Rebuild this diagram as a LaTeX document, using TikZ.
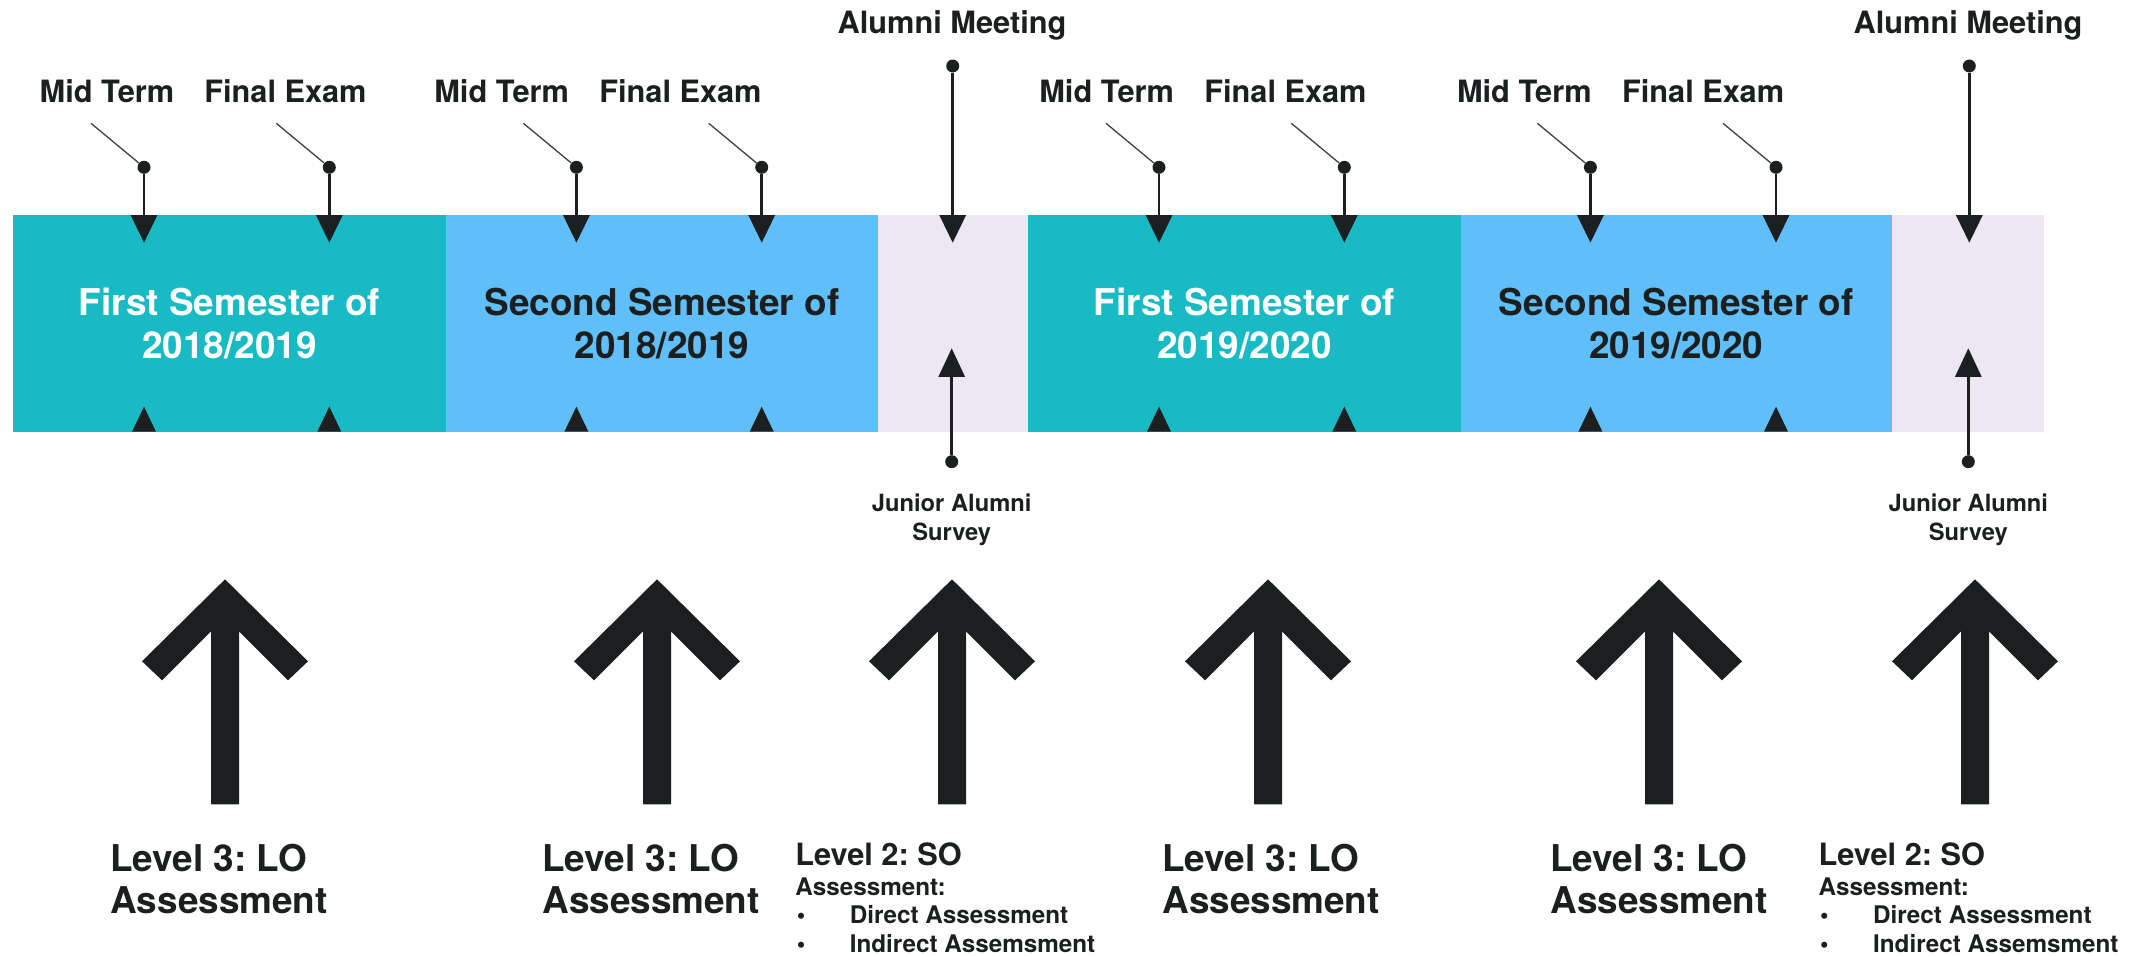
\documentclass[tikz,border=0pt]{standalone}
\usepackage{fontspec}
\setmainfont{TeX Gyre Heros}
\usetikzlibrary{arrows.meta}
\definecolor{tealseg}{RGB}{24,186,196}
\definecolor{blueseg}{RGB}{96,190,248}
\definecolor{lavseg}{RGB}{237,231,243}
\definecolor{ink}{RGB}{27,31,31}
\frenchspacing
\begin{document}
\begin{tikzpicture}[x=0.2mm,y=-0.2mm,
  dot/.style={circle,fill=ink,inner sep=0pt,minimum size=2.6mm},
  pin/.style={draw=ink,line width=0.54mm,-{Triangle[length=5.5mm,width=5.2mm]}},
  leader/.style={draw=ink!85,line width=0.26mm},
  toplabel/.style={anchor=base west,inner sep=0pt,text=ink,font=\fontsize{17.5}{20}\selectfont\bfseries},
  semtext/.style={align=center,inner sep=0pt,font=\fontsize{21}{24.4}\selectfont\bfseries},
  survey/.style={anchor=base,inner sep=0pt,text=ink,font=\fontsize{13.5}{16}\selectfont\bfseries},
  levelbig/.style={anchor=base west,inner sep=0pt,text=ink,font=\fontsize{21}{24}\selectfont\bfseries},
  levelmid/.style={anchor=base west,inner sep=0pt,text=ink,font=\fontsize{17.5}{20}\selectfont\bfseries},
  levelsmall/.style={anchor=base west,inner sep=0pt,text=ink,font=\fontsize{13.8}{16}\selectfont\bfseries},
  bulletmark/.style={anchor=base,inner sep=0pt,text=ink,font=\fontsize{13.8}{16}\selectfont\bfseries}
]
\useasboundingbox (0,0) rectangle (2136,955);

% timeline band
\fill[tealseg] (13.3,215.3) rectangle (445.7,431.7);
\fill[blueseg] (445.7,215.3) rectangle (878.3,431.7);
\fill[lavseg]  (878.3,215.3) rectangle (1028.3,431.7);
\fill[tealseg] (1028.3,215.3) rectangle (1460.7,431.7);
\fill[blueseg] (1460.7,215.3) rectangle (1891.7,431.7);
\fill[lavseg]  (1891.7,215.3) rectangle (2044,431.7);

\node[semtext,text=white] (sem1) at (229.5,323.5) {First Semester of\\2018/2019};
\node[semtext,text=ink]   (sem2) at (662,323.5) {Second Semester of\\2018/2019};
\node[semtext,text=white] (sem3) at (1244.5,323.5) {First Semester of\\2019/2020};
\node[semtext,text=ink]   (sem4) at (1676.2,323.5) {Second Semester of\\2019/2020};

% exams in each semester
\foreach \i/\m/\f/\ml/\fl in {1/144/329.3/39.3/204, 2/576.4/761.7/434/599,
                              3/1159/1344.3/1039/1204, 4/1590.4/1776/1456.7/1621.7}{
  \node[dot] (mid\i) at (\m,167.3) {};
  \node[dot] (fin\i) at (\f,167.3) {};
  \coordinate (midtip\i) at (\m,242.7);
  \coordinate (fintip\i) at (\f,242.7);
  \coordinate (midlead\i) at (\m-53,123.3);
  \coordinate (finlead\i) at (\f-53,123.3);
  \draw[pin] (mid\i) -- (midtip\i);
  \draw[pin] (fin\i) -- (fintip\i);
  \draw[leader] (midlead\i) -- (mid\i);
  \draw[leader] (finlead\i) -- (fin\i);
  \node[toplabel] (midlbl\i) at (\ml,102.7) {Mid Term};
  \node[toplabel] (finlbl\i) at (\fl,102.7) {Final Exam};
  \fill[ink] (\m,406.7) -- (\m+12,431.7) -- (\m-12,431.7) -- cycle;
  \fill[ink] (\f,406.7) -- (\f+12,431.7) -- (\f-12,431.7) -- cycle;
}

% alumni meetings and junior alumni surveys
\foreach \j/\ax/\lx/\sx in {1/952.7/837.3/951.7, 2/1969.3/1853.3/1968.3}{
  \node[dot] (alm\j) at (\ax,66) {};
  \coordinate (almtip\j) at (\ax,242.7);
  \draw[pin] (alm\j) -- (almtip\j);
  \node[toplabel] (almlbl\j) at (\lx,33.3) {Alumni Meeting};
  \node[dot] (jas\j) at (\sx,461.7) {};
  \coordinate (jastip\j) at (\sx,348.3);
  \draw[draw=ink,line width=0.54mm,-{Triangle[length=5.7mm,width=5.2mm]}] (jas\j) -- (jastip\j);
  \node[survey] (jaslblA\j) at (\sx,511.7) {Junior Alumni};
  \node[survey] (jaslblB\j) at (\sx,540) {Survey};
}

% large upward arrows
\foreach \ax in {225,657,952,1268,1659,1975}{
  \fill[ink,shift={(\ax,579.3)}] (0,0) -- (83,82) -- (63,101) -- (14,52) -- (14,225)
    -- (-14,225) -- (-14,52) -- (-63,101) -- (-83,82) -- cycle;
}

% level 3 labels
\foreach \k/\lx in {1/110, 2/542, 3/1162, 4/1550}{
  \node[levelbig] (lvlA\k) at (\lx,871.7) {Level 3: LO};
  \node[levelbig] (lvlB\k) at (\lx,913.3) {Assessment};
}

% level 2 labels
\foreach \k/\lx in {1/795, 2/1818.3}{
  \node[levelmid]   (soA\k) at (\lx,865) {Level 2: SO};
  \node[levelsmall] (soB\k) at (\lx,895) {Assessment:};
  \node[bulletmark] (soC\k) at (\lx+6,923.3) {\textbullet};
  \node[levelsmall] (soD\k) at (\lx+54.5,923.3) {Direct Assessment};
  \node[bulletmark] (soE\k) at (\lx+6,952.7) {\textbullet};
  \node[levelsmall] (soF\k) at (\lx+54.5,952.7) {Indirect Assemsment};
}
\end{tikzpicture}
\end{document}
